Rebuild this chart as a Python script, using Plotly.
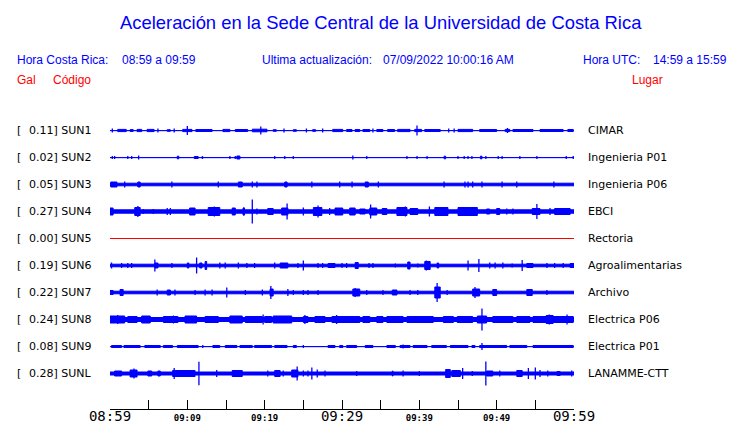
import plotly.graph_objects as go

# ---------------- data ----------------
STATIONS = ["SUN1", "SUN2", "SUN3", "SUN4", "SUN5", "SUN6", "SUN7", "SUN8", "SUN9", "SUNL"]
PEAK_GAL = ["0.11", "0.02", "0.05", "0.27", "0.00", "0.19", "0.22", "0.24", "0.08", "0.28"]
PLACES = ["CIMAR", "Ingenieria P01", "Ingenieria P06", "EBCI", "Rectoria",
          "Agroalimentarias", "Archivo", "Electrica P06", "Electrica P01", "LANAMME-CTT"]

# background noise half-amplitude of each trace (display units)
BASE = [0.6, 0.6, 1.8, 2.2, 0.0, 1.8, 1.8, 2.5, 0.6, 2.0]

# bursts: (start minute, end minute, half amplitude)
BURSTS_SUN1 = [(1.0, 2.1, 1.6), (2.6, 3.0, 1.4), (3.5, 4.1, 1.6), (4.8, 5.7, 1.6), (7.4, 7.8, 1.3),
               (9.4, 10.6, 1.6), (11.1, 13.2, 1.5), (14.6, 15.5, 1.6), (16.2, 17.8, 1.5), (18.4, 20.3, 1.8),
               (21.1, 21.5, 1.3), (23.7, 24.1, 1.3), (26.2, 26.6, 1.3), (28.8, 30.1, 1.6), (30.6, 31.3, 1.5),
               (31.7, 32.3, 1.5), (32.7, 33.6, 1.5), (34.5, 35.3, 1.5), (35.9, 36.8, 1.5), (37.2, 38.8, 1.6),
               (39.4, 40.3, 1.6), (40.7, 42.7, 1.5), (45.0, 46.9, 1.6), (47.8, 50.0, 1.5), (51.1, 51.7, 1.6),
               (52.1, 54.7, 1.5), (55.6, 58.6, 1.5), (59.2, 59.9, 1.5)]
SPIKES_SUN1 = [(0.3, 2), (6.2, 2), (8.3, 2), (10.0, 4.5), (19.5, 4), (22.5, 2), (25.4, 2),
               (27.5, 2), (34.0, 2), (39.7, 5), (43.8, 2), (44.5, 2), (51.4, 2.5)]

BURSTS_SUN2 = [(8.7, 8.9, 1.8), (10.9, 11.4, 1.5), (11.9, 12.0, 1.5), (16.4, 16.8, 2),
               (43.2, 43.4, 1.8), (47.9, 48.1, 1.8)]
SPIKES_SUN2 = [(0.3, 1.5), (0.6, 1.5), (2.3, 1.5), (2.8, 1.5), (3.7, 2), (15.5, 1.5), (16.2, 1.5),
               (21.3, 1.5), (22.6, 1.5), (23.7, 1.5), (31.4, 2), (33.2, 1.5), (38.4, 1.5), (39.7, 1.5),
               (41.0, 1.5), (45.0, 1.5), (45.8, 1.5), (46.3, 1.5), (46.8, 1.5), (48.6, 1.5), (50.2, 1.5),
               (50.7, 1.5), (53.0, 1.5), (55.2, 1.5), (59.0, 1.5), (59.9, 1.5)]

BURSTS_SUN3 = [(0.1, 0.9, 3), (3.6, 3.9, 3), (16.6, 17.1, 3), (22.6, 22.9, 3), (33.0, 33.4, 3)]
SPIKES_SUN3 = [(1.9, 3), (8.0, 3), (14.0, 3), (18.4, 3), (19.0, 3), (26.1, 3), (29.7, 3), (31.3, 3),
               (34.7, 3), (43.2, 3), (45.9, 3), (46.3, 3), (46.9, 3), (48.1, 3), (50.7, 3), (52.6, 3),
               (57.4, 3)]

BURSTS_SUN4 = [(0.0, 0.4, 4), (3.2, 3.9, 4.5), (10.3, 11.0, 4), (12.7, 14.2, 4.5), (15.8, 16.2, 4),
               (17.2, 17.4, 4), (20.4, 21.1, 3.5), (22.2, 23.0, 4), (26.3, 27.4, 4.5), (29.1, 30.1, 4),
               (31.0, 31.7, 4), (32.3, 33.0, 3), (33.6, 34.5, 4), (35.2, 35.8, 3.5), (37.1, 38.4, 4.5),
               (38.8, 39.8, 3.5), (42.0, 43.7, 4.5), (45.0, 47.5, 4.5), (48.7, 49.1, 3), (50.0, 50.4, 3.5),
               (54.6, 55.6, 3.5), (57.5, 59.5, 3.5)]
SPIKES_SUN4 = [(3.6, 5.5), (4.3, 2.5), (5.6, 2.5), (7.4, 3.5), (7.8, 3.5), (13.5, 5), (17.3, 4),
               (18.4, 12), (19.0, 3), (22.9, 8), (25.0, 4), (26.9, 6), (28.4, 3.5), (33.7, 7), (38.2, 5),
               (41.3, 5), (51.3, 3), (52.1, 3), (55.2, 7.5), (56.9, 3.5)]

BURSTS_SUN5 = []
SPIKES_SUN5 = []

BURSTS_SUN6 = [(5.8, 6.2, 3), (10.0, 10.2, 3), (11.6, 11.9, 3), (12.3, 12.5, 4.5), (22.0, 23.0, 3),
               (28.2, 29.1, 2.5), (31.7, 32.1, 3.5), (38.5, 38.8, 4), (40.7, 41.4, 4.5), (42.3, 42.5, 3),
               (53.9, 54.7, 2.5), (59.5, 60.0, 2.5)]
SPIKES_SUN6 = [(0.2, 3), (1.5, 2.5), (2.3, 2.5), (2.8, 2.5), (5.8, 6), (8.0, 2.5), (11.2, 8), (14.2, 3),
               (14.9, 3), (16.6, 3), (17.7, 2.5), (18.7, 2.5), (21.3, 3), (24.3, 2.5), (25.0, 5),
               (26.9, 2.5), (27.5, 2.5), (30.0, 2.5), (30.6, 2.5), (33.5, 2.5), (34.0, 2.5), (36.9, 2),
               (39.8, 2), (40.9, 5), (46.3, 5), (47.7, 6.5), (49.1, 3), (49.8, 3), (50.8, 3), (52.0, 2),
               (53.3, 5.5), (56.5, 2.5), (57.5, 2.5), (58.6, 2.5)]

BURSTS_SUN7 = [(0.0, 0.4, 2.5), (1.3, 1.7, 3.5), (7.4, 7.8, 3), (20.7, 21.1, 4), (31.4, 32.3, 4),
               (36.5, 37.1, 3), (42.0, 42.7, 6), (46.9, 47.8, 4), (49.5, 50.0, 3.5), (53.9, 54.6, 3.5)]
SPIKES_SUN7 = [(6.1, 3), (8.4, 3), (11.0, 2.5), (12.3, 3), (13.2, 3), (15.1, 5), (17.5, 2.5), (19.7, 3),
               (20.8, 6.5), (23.0, 3.5), (23.7, 2.5), (25.0, 2.5), (25.6, 2.5), (26.9, 2.5), (31.7, 4.5),
               (33.2, 2.5), (35.3, 2.5), (38.8, 2.5), (39.8, 2.5), (42.3, 9.5), (43.6, 2.5), (47.2, 5.5),
               (56.5, 2.5)]

BURSTS_SUN8 = [(0.0, 1.9, 4), (2.3, 3.5, 3.5), (4.1, 5.2, 4), (6.9, 8.8, 3.5), (9.7, 11.2, 4),
               (12.3, 14.0, 3.5), (15.5, 17.1, 4), (17.5, 19.7, 3.5), (20.0, 20.9, 3.5), (21.1, 23.5, 4),
               (25.0, 25.6, 3.5), (26.5, 27.8, 3.5), (28.7, 32.3, 3.5), (32.7, 33.6, 3.5), (34.5, 35.3, 3.5),
               (35.8, 37.9, 3.5), (38.4, 41.8, 3.5), (43.1, 44.4, 3.5), (44.9, 46.9, 3.5), (47.5, 48.7, 4),
               (49.5, 52.1, 3.5), (52.6, 54.3, 3.5), (54.7, 59.9, 3.5), (56.4, 57.3, 4.5)]
SPIKES_SUN8 = [(1.0, 4.5), (8.2, 4), (19.8, 5), (25.2, 4.5), (29.3, 4.5), (48.1, 11), (56.8, 5),
               (59.1, 5)]

BURSTS_SUN9 = [(0.2, 1.5, 1.5), (1.8, 3.9, 1.5), (4.5, 6.5, 1.5), (6.9, 8.1, 1.5), (8.7, 11.4, 1.5),
               (13.3, 14.2, 1.5), (14.9, 16.4, 1.5), (16.8, 18.4, 1.5), (18.7, 20.9, 1.5), (21.3, 22.9, 1.5),
               (23.7, 24.1, 1.5), (28.2, 29.1, 1.5), (29.7, 30.1, 1.5), (30.6, 31.9, 1.5), (33.0, 34.0, 1.5),
               (35.8, 36.9, 1.5), (37.5, 38.8, 1.5), (39.2, 41.0, 1.5), (41.6, 43.5, 1.5), (44.0, 46.3, 1.5),
               (46.8, 47.2, 1.5), (47.8, 51.3, 1.5), (51.7, 53.9, 1.5), (54.7, 59.9, 1.5)]
SPIKES_SUN9 = [(12.0, 1.5), (25.0, 1.5), (30.0, 1.5), (37.9, 2), (48.1, 3.5)]

BURSTS_SUNL = [(0.6, 1.5, 3), (2.6, 3.5, 4), (4.9, 5.4, 3), (6.2, 6.5, 3), (8.1, 11.0, 3.5),
               (15.8, 17.1, 3.5), (21.3, 22.0, 3.5), (23.5, 24.3, 4), (36.5, 36.6, 3), (43.4, 44.0, 4.5),
               (44.2, 45.3, 3.5), (46.8, 46.9, 2.5), (48.7, 49.5, 3), (52.6, 53.3, 3.5), (57.8, 58.2, 2.5)]
SPIKES_SUNL = [(3.1, 5), (8.3, 5.5), (11.5, 11.7), (13.8, 3.5), (20.4, 3), (22.4, 3), (24.2, 7),
               (25.0, 3), (25.6, 3), (26.1, 6), (26.8, 4), (27.8, 3), (31.9, 2.5), (37.9, 3), (40.0, 2.5),
               (45.6, 5.5), (48.6, 12), (50.4, 3), (54.1, 5.5), (55.0, 6), (55.6, 3.5), (56.6, 3),
               (59.7, 3)]

BURSTS = [BURSTS_SUN1, BURSTS_SUN2, BURSTS_SUN3, BURSTS_SUN4, BURSTS_SUN5,
          BURSTS_SUN6, BURSTS_SUN7, BURSTS_SUN8, BURSTS_SUN9, BURSTS_SUNL]
SPIKES = [SPIKES_SUN1, SPIKES_SUN2, SPIKES_SUN3, SPIKES_SUN4, SPIKES_SUN5,
          SPIKES_SUN6, SPIKES_SUN7, SPIKES_SUN8, SPIKES_SUN9, SPIKES_SUNL]

WINDOW_MIN = 60
TICK_MIN = [0, 5, 10, 15, 20, 25, 30, 35, 40, 45, 50, 55, 60]
TICK_LABELS = ["08:59", "", "09:09", "", "09:19", "", "09:29", "", "09:39", "", "09:49", "", "09:59"]
MAJOR_LABELS = {"08:59", "09:29", "09:59"}

TITLE = "Aceleración en la Sede Central de la Universidad de Costa Rica"

# ---------------- layout constants ----------------
W, H = 740, 423
PL, PR = 110, 574          # plot area pixel x
PT, PB = 115, 409          # plot area pixel y
SPACING = 27
FIRST_CENTER = 278.5       # y-units of the first trace centre
BLUE = "#0000FF"
RED = "#FF0000"
STROKE = 0.5               # half of polygon outline width

fig = go.Figure()

for i, st in enumerate(STATIONS):
    c = FIRST_CENTER - SPACING * i
    if st == "SUN5":
        fig.add_trace(go.Scatter(x=[0, WINDOW_MIN], y=[c, c], mode="lines",
                                 line=dict(color=RED, width=1), hoverinfo="skip", showlegend=False))
        continue
    xs, ys = [], []
    polys = [(0, WINDOW_MIN, BASE[i])] + list(BURSTS[i])
    for s, e, a in polys:
        h = max(a - STROKE, 0.05)
        xs += [s, e, e, s, s, None]
        ys += [c - h, c - h, c + h, c + h, c - h, None]
    fig.add_trace(go.Scatter(x=xs, y=ys, mode="lines", fill="toself", fillcolor=BLUE,
                             line=dict(color=BLUE, width=1), hoverinfo="skip", showlegend=False))
    sx, sy = [], []
    for m, a in SPIKES[i]:
        sx += [m, m, None]
        sy += [c - a, c + a, None]
    if sx:
        fig.add_trace(go.Scatter(x=sx, y=sy, mode="lines", line=dict(color=BLUE, width=1.3),
                                 hoverinfo="skip", showlegend=False))


def px_x(px):
    return (px - PL) / (PR - PL)


def px_y(py):
    return (PB - py) / (PB - PT)


ann = []
LABEL_FONT = dict(family="DejaVu Sans", size=11, color="black")
for i, st in enumerate(STATIONS):
    py = 130.5 + SPACING * i
    ann.append(dict(x=px_x(15), y=px_y(py), text="[", xanchor="left", yanchor="middle", font=LABEL_FONT))
    ann.append(dict(x=px_x(27), y=px_y(py), text=f"{PEAK_GAL[i]}] {st}", xanchor="left",
                    yanchor="middle", font=LABEL_FONT))
    ann.append(dict(x=px_x(586), y=px_y(py), text=PLACES[i], xanchor="left", yanchor="middle",
                    font=LABEL_FONT))

HEAD = "Liberation Sans"
ann.append(dict(x=px_x(381), y=px_y(22), text=TITLE, xanchor="center", yanchor="middle",
                font=dict(family=HEAD, size=18.4, color=BLUE)))
for px, txt in [(15, "Hora Costa Rica:"), (120, "08:59 a 09:59"), (260, "Ultima actualización:"),
                (381, "07/09/2022 10:00:16 AM"), (581, "Hora UTC:"), (651, "14:59 a 15:59")]:
    ann.append(dict(x=px_x(px), y=px_y(60), text=txt, xanchor="left", yanchor="middle",
                    font=dict(family=HEAD, size=12, color=BLUE)))
for px, txt in [(15, "Gal"), (51, "Código"), (630, "Lugar")]:
    ann.append(dict(x=px_x(px), y=px_y(80), text=txt, xanchor="left", yanchor="middle",
                    font=dict(family=HEAD, size=12, color=RED)))
for a in ann:
    a.update(xref="paper", yref="paper", showarrow=False)

ticktext = [f'<span style="font-size:14px;font-weight:normal">{t}</span>' if t in MAJOR_LABELS else t
            for t in TICK_LABELS]

fig.update_layout(
    width=W, height=H,
    margin=dict(l=PL, r=W - PR, t=PT, b=H - PB, pad=0, autoexpand=False),
    paper_bgcolor="white", plot_bgcolor="white",
    annotations=ann,
    xaxis=dict(range=[0, WINDOW_MIN], tickvals=TICK_MIN, ticktext=ticktext, ticks="inside",
               ticklen=9, tickwidth=1, tickcolor="black", showline=True, linecolor="black",
               linewidth=1, showgrid=False, zeroline=False, fixedrange=True, automargin=False,
               tickfont=dict(family="DejaVu Sans Mono", size=9, color="black", weight="bold")),
    yaxis=dict(range=[0, PB - PT], visible=False, showgrid=False, zeroline=False, fixedrange=True,
               automargin=False),
)

fig.write_html("out.html", config={"displayModeBar": False},
               post_script="document.body.style.margin='0';document.body.style.overflow='hidden';")
